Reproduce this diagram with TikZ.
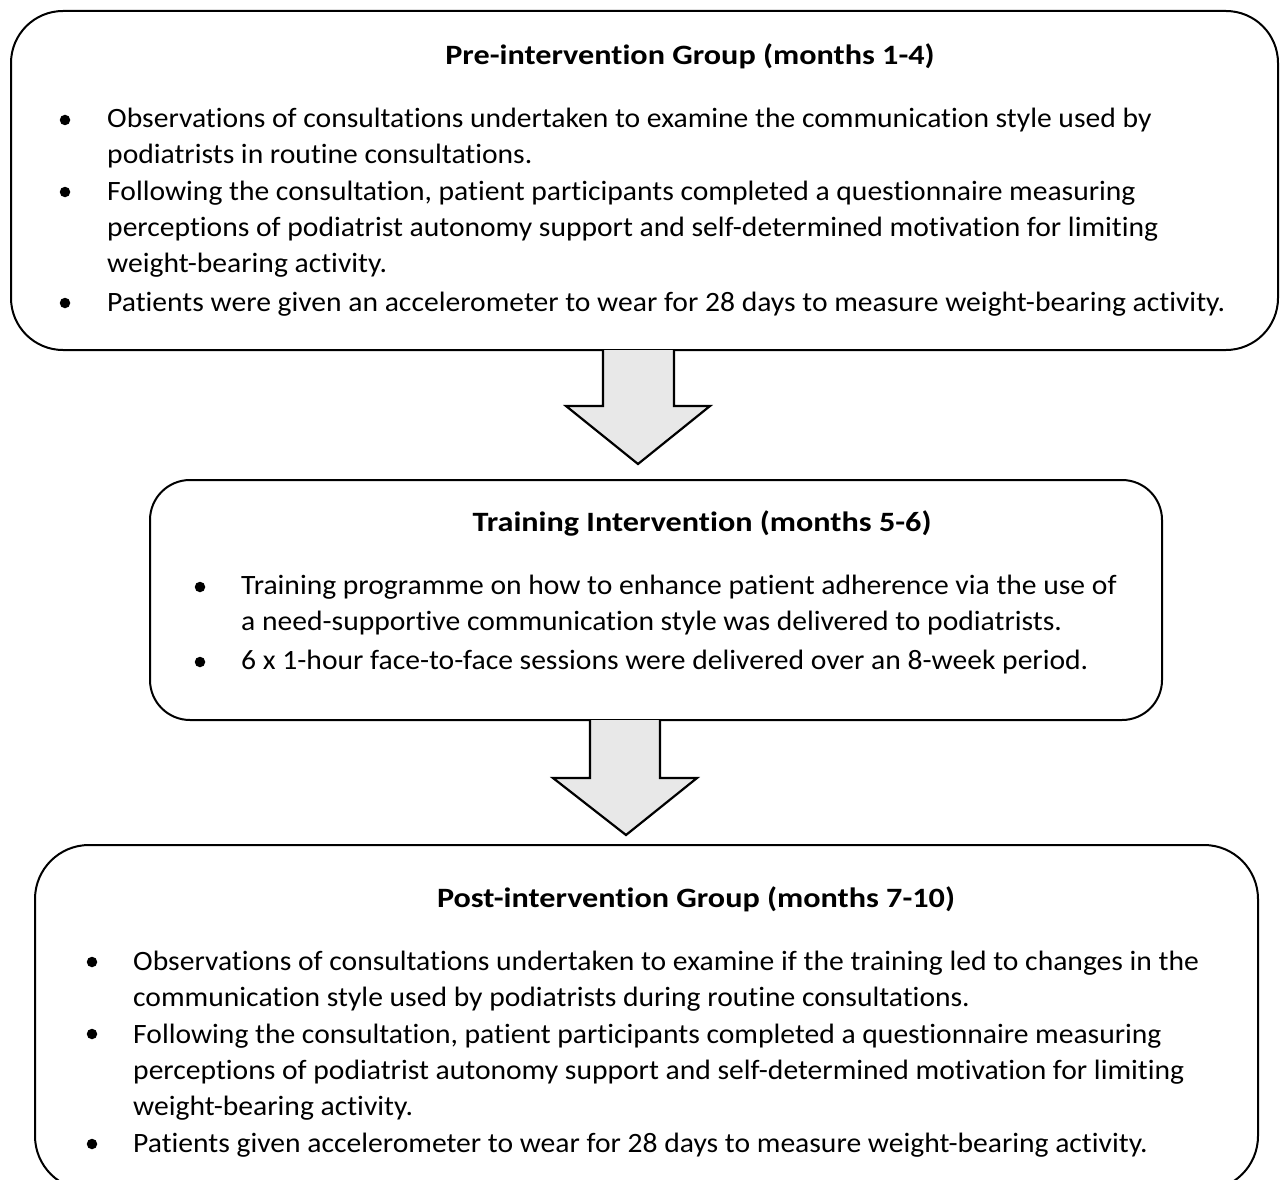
\documentclass[tikz,border=0pt]{standalone}
\usepackage{fontspec}
\setmainfont{Carlito}[Ligatures=CommonOff]
\begin{document}
\begin{tikzpicture}[x=1pt,y=-1pt,
  panel/.style={draw=black, line width=2pt, fill=white},
  blockarrow/.style={draw=black, line width=2.2pt, line join=miter},
  heading/.style={font=\fontsize{28}{36}\selectfont\bfseries, inner sep=0pt, anchor=base, xscale=1.15},
  % multi-line items are placed by the baseline of their last line
  itemtext/.style={font=\fontsize{28}{36}\selectfont, inner sep=0pt, anchor=base west, align=left, xscale=1.057},
  dot/.style={circle, fill=black, inner sep=0pt, minimum size=10.5pt}]
\clip (0,0) rectangle (1280,1180);
\fill[white] (0,0) rectangle (1280,1180);

% panels
\draw[panel, rounded corners=52pt] (11,11) rectangle (1278,350);
\draw[panel, rounded corners=40pt] (150,480) rectangle (1162,720);
\draw[panel, rounded corners=54pt] (35,845) rectangle (1258,1190);

% connector anchors on the panel edges
\coordinate (a1) at (603,350);
\coordinate (a2) at (674,350);
\coordinate (b1) at (590,720);
\coordinate (b2) at (660,720);

% block arrows between the panels
\fill[gray!18] (a1) -- (603,406) -- (566,406) -- (638,464) -- (710,406) -- (674,406) -- (a2) -- cycle;
\draw[blockarrow] (a1) -- (603,406) -- (566,406) -- (638,464) -- (710,406) -- (674,406) -- (a2);
\fill[gray!18] (b1) -- (590,778) -- (553,778) -- (626,835) -- (697,778) -- (660,778) -- (b2) -- cycle;
\draw[blockarrow] (b1) -- (590,778) -- (553,778) -- (626,835) -- (697,778) -- (660,778) -- (b2);

% first panel
\node[heading] (t1) at (690,65) {Pre-intervention Group (months 1-4)};
\node[dot] (d11) at (65,120) {};
\node[itemtext] (i11) at (107,164) {Observations of consultations undertaken to examine the communication style used by\\podiatrists in routine consultations.};
\node[dot] (d12) at (65,192) {};
\node[itemtext] (i12) at (107,272) {Following the consultation, patient participants completed a questionnaire measuring\\perceptions of podiatrist autonomy support and self-determined motivation for limiting\\weight-bearing activity.};
\node[dot] (d13) at (65,303) {};
\node[itemtext] (i13) at (107,311) {Patients were given an accelerometer to wear for 28 days to measure weight-bearing activity.};

% second panel
\node[heading] (t2) at (702,531) {Training Intervention (months 5-6)};
\node[dot] (d21) at (200,587) {};
\node[itemtext] (i21) at (241,630) {Training programme on how to enhance patient adherence via the use of\\a need-supportive communication style was delivered to podiatrists.};
\node[dot] (d22) at (200,662) {};
\node[itemtext] (i22) at (241,669) {6 x 1-hour face-to-face sessions were delivered over an 8-week period.};

% third panel
\node[heading] (t3) at (696,907) {Post-intervention Group (months 7-10)};
\node[dot] (d31) at (92,962) {};
\node[itemtext] (i31) at (133,1006) {Observations of consultations undertaken to examine if the training led to changes in the\\communication style used by podiatrists during routine consultations.};
\node[dot] (d32) at (92,1034) {};
\node[itemtext] (i32) at (133,1115) {Following the consultation, patient participants completed a questionnaire measuring\\perceptions of podiatrist autonomy support and self-determined motivation for limiting\\weight-bearing activity.};
\node[dot] (d33) at (92,1144) {};
\node[itemtext] (i33) at (133,1152) {Patients given accelerometer to wear for 28 days to measure weight-bearing activity.};
\end{tikzpicture}
\end{document}
